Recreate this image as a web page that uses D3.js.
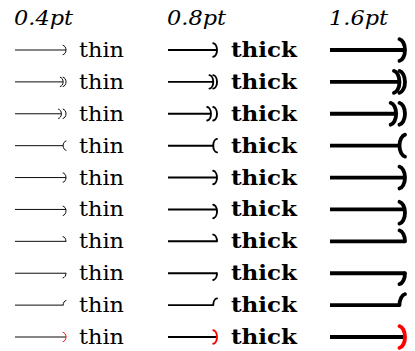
<!DOCTYPE html>
<html><head><meta charset="utf-8">
<script src="https://cdn.jsdelivr.net/npm/d3@7"></script>
<style>body{margin:0;background:#fff}</style>
</head><body>
<script>
// ---- data ----
const rowTips = ["to","double","sep","reversed","sharp","shift","left","right","revleft","red"];
const colLabels = ["0.4pt","0.8pt","1.6pt"];
const colWidthsPt = [0.4, 0.8, 1.6];
const colWords = ["thin","thick",""];

const W = 415, H = 351;
const svg = d3.select("body").append("svg").attr("width", W).attr("height", H);

const y = d3.scalePoint().domain(d3.range(rowTips.length)).range([50, 337]);
const xStart = d3.scaleOrdinal().domain(colLabels).range([15, 168, 330]);
const xEnd = d3.scaleOrdinal().domain(colLabels).range([66, 217, 405]);
const xText = d3.scaleOrdinal().domain(colLabels).range([79, 231, 0]);
const textLen = d3.scaleOrdinal().domain(colLabels).range([45, 66, 0]);
const lwScale = d3.scaleLinear().domain([0, 1]).range([0, 2.4]);

// headers
svg.selectAll("text.hdr").data(colLabels).join("text")
  .attr("class", "hdr")
  .attr("x", d => xStart(d) - 1).attr("y", 25)
  .attr("font-family", "DejaVu Serif").attr("font-style", "italic")
  .attr("font-size", 20).attr("fill", "#000")
  .attr("textLength", 59).attr("lengthAdjust", "spacingAndGlyphs")
  .text(d => d);

function arcPath(cx, cy, w, h, dir, part) {
  // dir=1 : ")" with middle at (cx,cy), tips at cx - w
  // dir=-1: "(" with middle at (cx,cy), tips at cx + w
  const tx = cx - dir * w;
  const up = `M${tx},${cy - h} C${tx + dir * w * 0.5},${cy - h * 0.95} ${cx},${cy - h * 0.55} ${cx},${cy}`;
  const dn = `M${cx},${cy} C${cx},${cy + h * 0.55} ${tx + dir * w * 0.5},${cy + h * 0.95} ${tx},${cy + h}`;
  if (part === "up") return up;
  if (part === "dn") return dn;
  return up + " " + dn.replace(/^M[^C]*/, "");
}

colLabels.forEach((c, ci) => {
  const pt = colWidthsPt[ci];
  const lw = lwScale(pt);
  const h = 2.6 + 5.2 * pt;
  const w = 2.0 + 2.2 * pt;
  const g = svg.append("g");
  rowTips.forEach((kind, ri) => {
    const yy = y(ri);
    const ex = xEnd(c);
    let lineEnd = ex;
    const paths = [];
    let color = "#000";
    if (kind === "to" || kind === "sharp") {
      paths.push(arcPath(ex, yy, w, h, 1, "all"));
    } else if (kind === "red") {
      paths.push(arcPath(ex, yy, w, h, 1, "all"));
      color = "#ff0000";
    } else if (kind === "double") {
      const gap = 1.0 * w;
      paths.push(arcPath(ex - gap, yy, w, h, 1, "all"));
      paths.push(arcPath(ex, yy, w, h, 1, "all"));
      lineEnd = ex - gap;
    } else if (kind === "sep") {
      const gap = 1.6 * w;
      paths.push(arcPath(ex - gap, yy, w, h, 1, "all"));
      paths.push(arcPath(ex, yy, w, h, 1, "all"));
      lineEnd = ex - gap;
    } else if (kind === "reversed") {
      paths.push(arcPath(ex - w, yy, w, h, -1, "all"));
      lineEnd = ex - w;
    } else if (kind === "shift") {
      paths.push(arcPath(ex, yy + h * 0.3, w, h, 1, "all"));
    } else if (kind === "left") {
      paths.push(arcPath(ex, yy, w, h, 1, "up"));
    } else if (kind === "right") {
      paths.push(arcPath(ex, yy, w, h, 1, "dn"));
    } else if (kind === "revleft") {
      paths.push(arcPath(ex - w, yy, w, h, -1, "up"));
      lineEnd = ex - w;
    }
    g.append("line")
      .attr("x1", xStart(c)).attr("x2", lineEnd)
      .attr("y1", yy).attr("y2", yy)
      .attr("stroke", "#000").attr("stroke-width", lw);
    paths.forEach(p => g.append("path").attr("d", p)
      .attr("fill", "none").attr("stroke", color)
      .attr("stroke-width", lw).attr("stroke-linecap", "round")
      .attr("stroke-linejoin", "round"));
    if (colWords[ci]) {
      g.append("text")
        .attr("x", xText(c)).attr("y", yy + 7)
        .attr("font-family", "DejaVu Serif")
        .attr("font-weight", ci === 1 ? "bold" : "normal")
        .attr("font-size", 21).attr("fill", "#000")
        .attr("textLength", textLen(c)).attr("lengthAdjust", "spacingAndGlyphs")
        .text(colWords[ci]);
    }
  });
});
</script>
</body></html>
